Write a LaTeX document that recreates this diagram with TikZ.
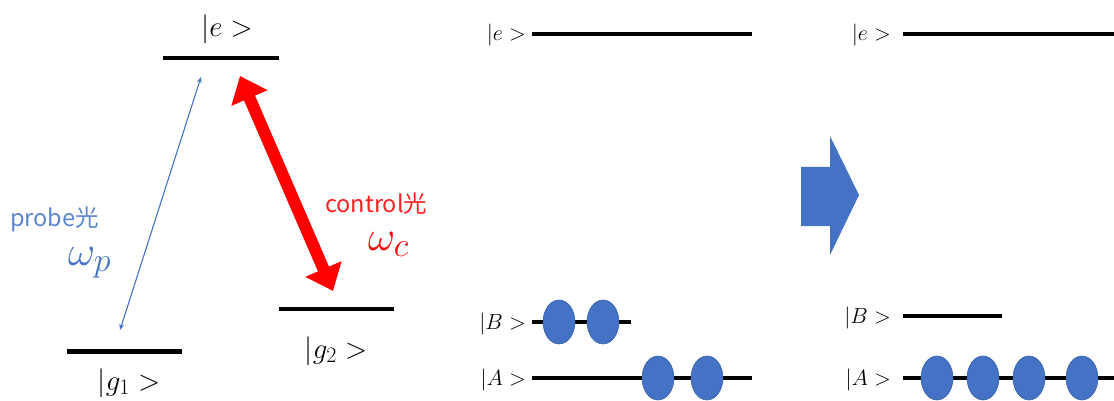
\documentclass[tikz,border=0pt]{standalone}
\usepackage{fix-cm}
\usepackage{fontspec}
\newfontfamily\jpfont{Noto Sans CJK JP}
\usetikzlibrary{arrows.meta,shapes.geometric}
\DeclareMathSizes{42}{42}{34}{26}
\DeclareMathSizes{29}{29}{22}{16}
\definecolor{oblue}{HTML}{4472C4}
\definecolor{pblue}{HTML}{5B86D0}
\definecolor{cred}{HTML}{FF2020}
\begin{document}
\begin{tikzpicture}[x=1pt,y=-1pt,
  level/.style={line width=4pt},
  biglabel/.style={anchor=base,font=\fontsize{29}{32}\selectfont,inner sep=0pt},
  smalllabel/.style={anchor=base east,font=\fontsize{22}{26}\selectfont,inner sep=0pt},
  atom/.style={ellipse,fill=oblue,draw=oblue!85!black,line width=0.6pt,minimum width=32pt,minimum height=44pt,inner sep=0pt},
  omega/.style={anchor=base west,font=\fontsize{42}{46}\selectfont,inner sep=0pt},
  jptext/.style={anchor=base west,font=\jpfont\fontsize{23.5}{26}\selectfont,inner sep=0pt}]
\useasboundingbox (0,0) rectangle (1114,401);

% ---------- left: Lambda system ----------
\coordinate (eL) at (163,58);  \coordinate (eR) at (279,58);
\coordinate (g1L) at (67,351); \coordinate (g1R) at (182,351);
\coordinate (g2L) at (279,309); \coordinate (g2R) at (394,309);
\draw[level] (eL) -- (eR);
\draw[level,line width=5pt] (g1L) -- (g1R);
\draw[level] (g2L) -- (g2R);
\node[biglabel] (le) at (227,37) {$|e>$};
\node[biglabel] (lg1) at (129,390) {$|g_1>$};
\node[biglabel] (lg2) at (336,358) {$|g_2>$};

\coordinate (p1) at (120,330); \coordinate (p2) at (201,77);
\draw[oblue,line width=1.1pt,{Stealth[length=6pt,width=5pt]}-{Stealth[length=6pt,width=5pt]}] (p1) -- (p2);
\coordinate (c1) at (240,76); \coordinate (c2) at (333,291);
\draw[red,line width=12pt,{Triangle[length=24pt,width=38pt]}-{Triangle[length=24pt,width=38pt]}] (c1) -- (c2);

\node[jptext,text=pblue] (probe) at (10,226) {probe光};
\node[omega,text=oblue] (wp) at (68,265) {$\omega_p$};
\node[jptext,text=cred] (control) at (325,212) {control光};
\node[omega,text=red] (wc) at (368,250) {$\omega_c$};

% ---------- middle ----------
\node[smalllabel] (me) at (526,41) {$|e>$};
\node[smalllabel] (mB) at (526,329) {$|B>$};
\node[smalllabel] (mA) at (526,385) {$|A>$};
\draw[level] (532,34) -- (752,34);
\draw[level] (532,322) -- (631,322);
\draw[level] (532,378) -- (752,378);
\node[atom] (mb1) at (559,322) {};
\node[atom] (mb2) at (603,322) {};
\node[atom] (ma1) at (658,378) {};
\node[atom] (ma2) at (707,378) {};

% ---------- big arrow ----------
\fill[oblue] (801,167) -- (830,167) -- (830,136) -- (859,195) -- (830,255) -- (830,226) -- (801,226) -- cycle;

% ---------- right ----------
\node[smalllabel] (re) at (891,41) {$|e>$};
\node[smalllabel] (rB) at (891,323) {$|B>$};
\node[smalllabel] (rA) at (891,385) {$|A>$};
\draw[level] (903,34) -- (1120,34);
\draw[level] (903,316) -- (1002,316);
\draw[level] (903,378) -- (1120,378);
\node[atom] (ra1) at (937,378) {};
\node[atom] (ra2) at (983,378) {};
\node[atom] (ra3) at (1029,378) {};
\node[atom] (ra4) at (1082,378) {};
\end{tikzpicture}
\end{document}
